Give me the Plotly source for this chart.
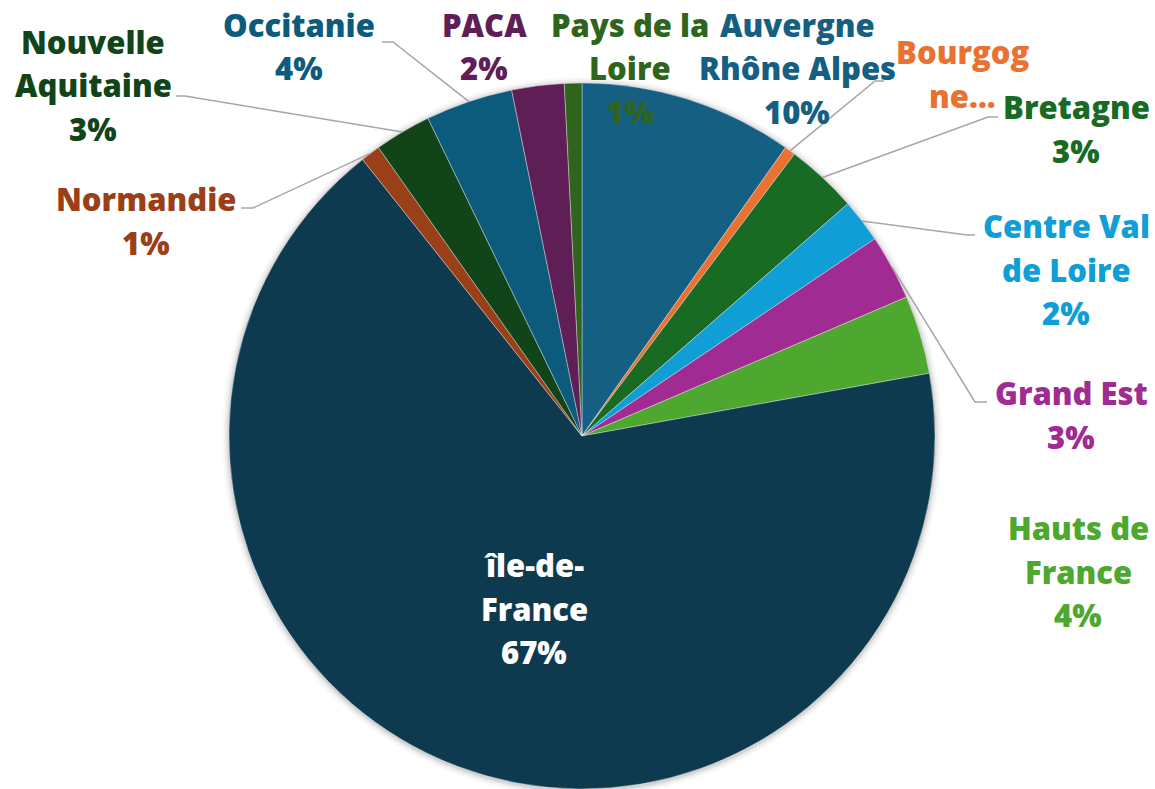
import math
import plotly.graph_objects as go

# ---------------- data ----------------
regions = ["Auvergne Rhône Alpes", "Bourgogne Franche-Comté", "Bretagne",
           "Centre Val de Loire", "Grand Est", "Hauts de France",
           "île-de-France", "Normandie", "Nouvelle Aquitaine", "Occitanie",
           "PACA", "Pays de la Loire"]
shares = [9.8, 0.5, 3.3, 2.0, 3.0, 3.6, 67.3, 0.9, 2.6, 4.0, 2.4, 0.8]
label_lines = [["Auvergne", "Rhône Alpes"], ["Bourgog", "ne..."], ["Bretagne"],
               ["Centre Val", "de Loire"], ["Grand Est"], ["Hauts de", "France"],
               ["île-de-", "France"], ["Normandie"], ["Nouvelle", "Aquitaine"],
               ["Occitanie"], ["PACA"], ["Pays de la", "Loire"]]
show_pct = [True, False, True, True, True, True, True, True, True, True, True, True]
colors = ["#156082", "#E97132", "#196B24", "#0F9ED5", "#A02B93", "#4EA72E",
          "#0E3A50", "#9A4019", "#114519", "#0C5B7D", "#601E57", "#2F641D"]
text_colors = ["#156082", "#E97132", "#196B24", "#0F9ED5", "#A02B93", "#4EA72E",
               "#FFFFFF", "#9A4019", "#114519", "#0C5B7D", "#601E57", "#2F641D"]

# ---------------- layout constants ----------------
W, H = 1155, 789
PIE_TOP, PIE_BOTTOM = 83, 789
R = (PIE_BOTTOM - PIE_TOP) / 2
CX = 582
CY = PIE_TOP + R

# label anchor (center x, first line center y) in pixels
label_pos = [(797, 25), (963, 52), (1076, 107), (1066, 226), (1071, 393),
             (1078, 528), (534, 565), (146, 199), (93, 42), (299, 25),
             (484, 25), (630, 25)]
LINE_GAP = 43.5
# leader lines: index -> (elbow, end) in pixels
leaders = {1: ((875, 81), (884, 81)), 2: ((988, 117), (998, 117)),
           3: ((967, 235), (975, 235)), 4: ((975, 402), (987, 402)),
           9: ((393, 42), (382, 42)), 8: ((185, 96), (176, 96)),
           7: ((253, 208), (241, 208))}


def px(x):
    return x / W


def py(y):
    return 1 - y / H


FONT = "Open Sans"
FSIZE = 31

fig = go.Figure()
fig.add_trace(go.Pie(
    labels=regions, values=shares, sort=False, direction="clockwise",
    rotation=0, marker=dict(colors=colors, line=dict(color="rgba(255,255,255,0.6)", width=0.6)),
    textinfo="none", hoverinfo="label+percent", showlegend=False,
    domain=dict(x=[px(CX - R), px(CX + R)], y=[py(PIE_BOTTOM), py(PIE_TOP)]),
))

shapes = []
# soft shadow around the pie
for k, a in [(7, 0.025), (5, 0.035), (3, 0.05), (1.5, 0.07)]:
    shapes.append(dict(type="circle", xref="paper", yref="paper", layer="below",
                       x0=px(CX - R - k), x1=px(CX + R + k),
                       y0=py(CY + R + k + 1), y1=py(CY - R - k + 1),
                       fillcolor=f"rgba(0,0,0,{a})", line=dict(width=0)))

total = sum(shares)
cum = 0.0
mids = []
for v in shares:
    mids.append((cum + v / 2) / total)
    cum += v

for i, (elbow, end) in leaders.items():
    ang = 2 * math.pi * mids[i]
    sx = CX + R * math.sin(ang)
    sy = CY - R * math.cos(ang)
    path = f"M {px(sx)},{py(sy)} L {px(elbow[0])},{py(elbow[1])} L {px(end[0])},{py(end[1])}"
    shapes.append(dict(type="path", xref="paper", yref="paper", path=path,
                       line=dict(color="#A6A6A6", width=1.5)))

annotations = []
for i, lines in enumerate(label_lines):
    lines = list(lines)
    if show_pct[i]:
        lines.append(f"{round(shares[i] / total * 100)}%")
    x0, y0 = label_pos[i]
    for j, t in enumerate(lines):
        annotations.append(dict(
            x=px(x0), y=py(y0 + j * LINE_GAP), xref="paper", yref="paper",
            text=t, showarrow=False, xanchor="center", yanchor="middle",
            font=dict(family=FONT, size=FSIZE, color=text_colors[i], weight=800),
        ))

fig.update_layout(
    width=W, height=H, margin=dict(l=0, r=0, t=0, b=0),
    paper_bgcolor="white", plot_bgcolor="white",
    shapes=shapes, annotations=annotations,
)

fig.write_html("out.html", config={"displayModeBar": False},
               post_script="document.body.style.margin='0px';")
